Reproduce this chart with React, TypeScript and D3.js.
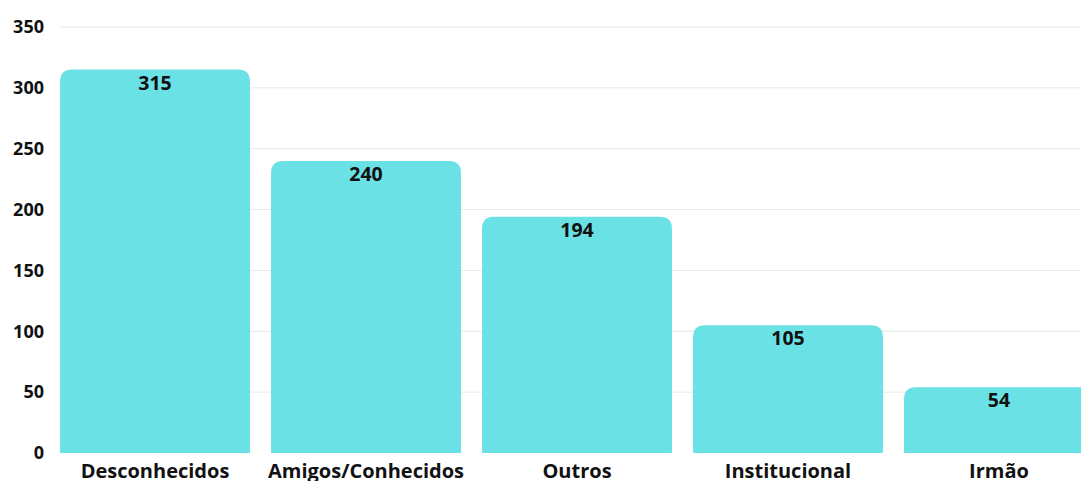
import React from "react";
import * as d3 from "d3";

const categories = ["Desconhecidos", "Amigos/Conhecidos", "Outros", "Institucional", "Irmão"];
const values = [315, 240, 194, 105, 54];
const yTicks = [0, 50, 100, 150, 200, 250, 300, 350];

const W = 1081;
const H = 481;

export default function App() {
  const x = d3
    .scaleBand<string>()
    .domain(categories)
    .range([49.5, 49.5 + 5 * 211])
    .paddingInner(0.1)
    .paddingOuter(0.05);
  const y = d3.scaleLinear().domain([0, 350]).range([453, 27]);
  const r = 12;
  const font = "'Open Sans', sans-serif";

  const barPath = (xs: number, w: number, top: number, bottom: number) => {
    const rr = Math.min(r, (bottom - top));
    return `M${xs},${bottom}V${top + rr}Q${xs},${top} ${xs + rr},${top}H${xs + w - rr}Q${xs + w},${top} ${xs + w},${top + rr}V${bottom}Z`;
  };

  return (
    <svg
      width={W}
      height={H}
      style={{ position: "fixed", left: 0, top: 0, display: "block", background: "#fff" }}
    >
      {yTicks.map((t) => (
        <g key={t}>
          {t > 0 && (
            <line x1={60} x2={W} y1={y(t)} y2={y(t)} stroke="#e9e9e9" strokeWidth={1} />
          )}
          <text
            x={44}
            y={y(t)}
            dy="0.35em"
            textAnchor="end"
            fontFamily={font}
            fontWeight={700}
            fontSize={18}
            fill="#111"
          >
            {t}
          </text>
        </g>
      ))}
      {categories.map((c, i) => {
        const xs = x(c)!;
        const w = x.bandwidth();
        return (
          <g key={c}>
            <path d={barPath(xs, w, y(values[i]), y(0))} fill="#6ae1e5" />
            <text
              x={xs + w / 2}
              y={y(values[i]) + 20}
              textAnchor="middle"
              fontFamily={font}
              fontWeight={700}
              fontSize={19.5}
              fill="#111"
            >
              {values[i]}
            </text>
            <text
              x={xs + w / 2}
              y={477.5}
              textAnchor="middle"
              fontFamily={font}
              fontWeight={700}
              fontSize={20}
              fill="#111"
            >
              {c}
            </text>
          </g>
        );
      })}
    </svg>
  );
}
